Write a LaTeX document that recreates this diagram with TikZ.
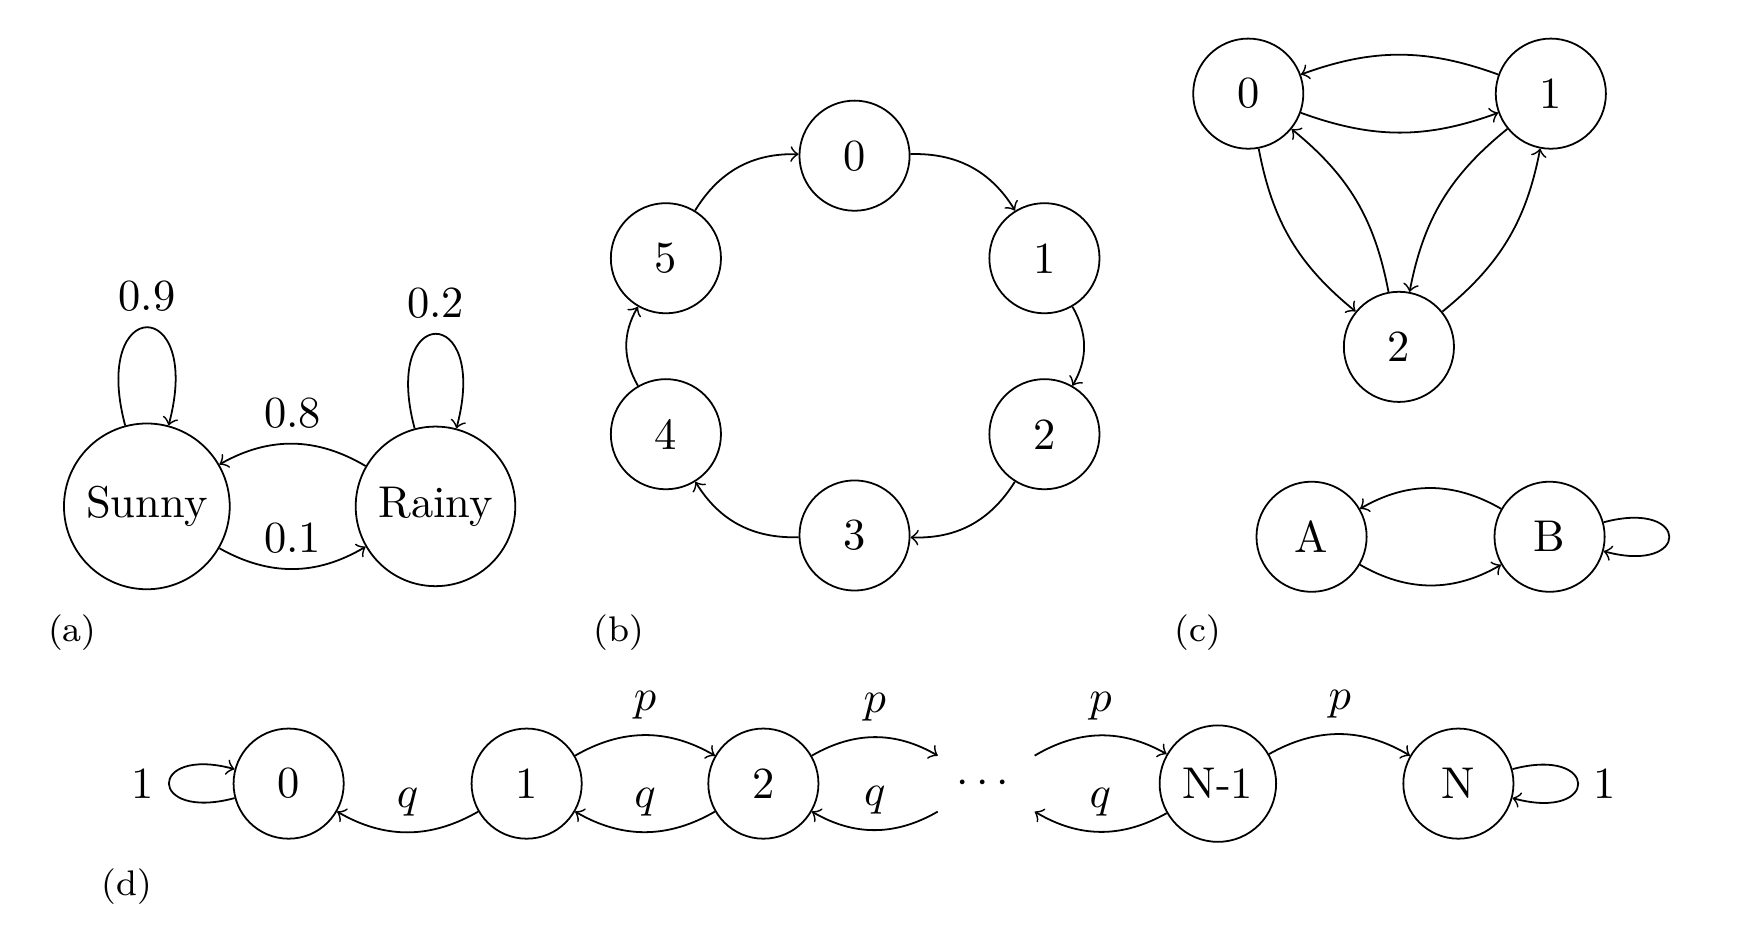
\documentclass[tikz,border=0pt]{standalone}
\usepackage{tikz,amsmath}
\usetikzlibrary{arrows}

\begin{document}
\begin{tikzpicture}[vertex/.style={circle,draw,minimum size=0.87cm},
  sublabel/.style={font=\footnotesize}]
\useasboundingbox (0,0) rectangle (13.76,7.37);
% (a)
\node[vertex] at (1.16,3.37) (S) {Sunny};
\node[vertex] at (3.44,3.37) (R) {Rainy};
\draw[->] (S) to[loop above] node[above] {0.9} (S);
\draw[->] (R) to[loop above] node[above] {0.2} (R);
\draw[->] (S) to[bend right] node[above] {0.1} (R);
\draw[->] (R) to[bend right] node[above] {0.8} (S);
\node[sublabel] at (0.57,2.37) (la) {(a)};
% (b)
\node[vertex] at (6.75,6.14) (b0) {0};
\node[vertex] at (8.25,5.33) (b1) {1};
\node[vertex] at (8.25,3.94) (b2) {2};
\node[vertex] at (6.75,3.14) (b3) {3};
\node[vertex] at (5.26,3.94) (b4) {4};
\node[vertex] at (5.26,5.33) (b5) {5};
\draw[->] (b0) to[bend left] (b1);
\draw[->] (b1) to[bend left] (b2);
\draw[->] (b2) to[bend left] (b3);
\draw[->] (b3) to[bend left] (b4);
\draw[->] (b4) to[bend left] (b5);
\draw[->] (b5) to[bend left] (b0);
\node[sublabel] at (4.89,2.37) (lb) {(b)};
% (c)
\node[vertex] at (9.86,6.63) (c0) {0};
\node[vertex] at (12.25,6.63) (c1) {1};
\node[vertex] at (11.05,4.63) (c2) {2};
\draw[->] (c0) to[bend right=20] (c1);
\draw[->] (c1) to[bend right=20] (c0);
\draw[->] (c0) to[bend right=20] (c2);
\draw[->] (c2) to[bend right=20] (c0);
\draw[->] (c1) to[bend right=20] (c2);
\draw[->] (c2) to[bend right=20] (c1);
\node[vertex] at (10.36,3.13) (A) {A};
\node[vertex] at (12.24,3.13) (B) {B};
\draw[->] (A) to[bend right] (B);
\draw[->] (B) to[bend right] (A);
\draw[->] (B) to[loop right] (B);
\node[sublabel] at (9.46,2.37) (lc) {(c)};
% (d)
\node[vertex] at (2.28,1.18) (d0) {0};
\node[vertex] at (4.16,1.18) (d1) {1};
\node[vertex] at (6.03,1.18) (d2) {2};
\node[vertex,draw=none] at (7.79,1.18) (dots) {$\cdots$};
\node[vertex] at (9.62,1.18) (dN1) {N-1};
\node[vertex] at (11.52,1.18) (dN) {N};
\draw[->] (d0) to[loop left] node[left] {1} (d0);
\draw[->] (d1) to[bend left] node[above] {$q$} (d0);
\draw[->] (d1) to[bend left] node[above] {$p$} (d2);
\draw[->] (d2) to[bend left] node[above] {$q$} (d1);
\draw[->] (d2) to[bend left] node[above] {$p$} (dots);
\draw[->] (dots) to[bend left] node[above] {$q$} (d2);
\draw[->] (dots) to[bend left] node[above] {$p$} (dN1);
\draw[->] (dN1) to[bend left] node[above] {$q$} (dots);
\draw[->] (dN1) to[bend left] node[above] {$p$} (dN);
\draw[->] (dN) to[loop right] node[right] {1} (dN);
\node[sublabel] at (1.00,0.37) (ld) {(d)};
\end{tikzpicture}
\end{document}
